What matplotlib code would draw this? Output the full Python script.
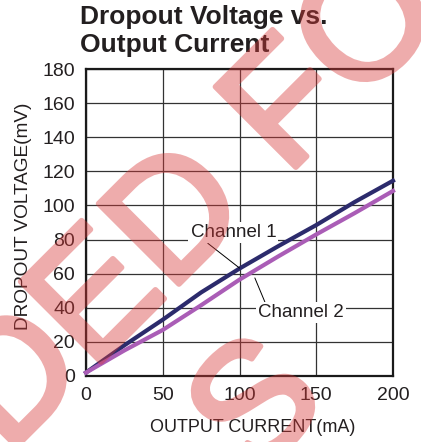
import matplotlib
matplotlib.use("Agg")
import matplotlib.pyplot as plt
import matplotlib.patheffects as pe
import numpy as np

# data
current = [0, 25, 50, 75, 100, 125, 150, 175, 200]
ch1 = [2, 18, 33, 49, 63, 76, 88.5, 102, 114.5]
ch2 = [2, 15, 27, 41.5, 56.5, 70, 83, 95.5, 108.5]
xticks = [0, 50, 100, 150, 200]
yticks = [0, 20, 40, 60, 80, 100, 120, 140, 160, 180]

W, H = 421, 442
plt.rcParams['font.family'] = ['Liberation Sans', 'DejaVu Sans']
txt = '#231f20'


def px(x, y):
    """pixel position (from top left) -> figure fraction"""
    return x / W, 1 - y / H


fig = plt.figure(figsize=(W / 100, H / 100), dpi=100)
ax = fig.add_axes([86 / W, 1 - 376 / H, 307 / W, 307 / H])

ax.plot(current, ch1, color='#2c2b6c', lw=3.0, clip_on=False, zorder=3)
ax.plot(current, ch2, color='#aa5db6', lw=3.0, clip_on=False, zorder=3)

ax.set_xlim(0, 200)
ax.set_ylim(0, 180)
ax.set_xticks(xticks)
ax.set_yticks(yticks)
ax.tick_params(length=0, pad=8, labelsize=14, labelcolor=txt)
ax.grid(True, color='#333333', lw=0.9)
ax.set_axisbelow(True)
for s in ax.spines.values():
    s.set_linewidth(1.6)
    s.set_color('#1a1a1a')

ax.set_xlabel('OUTPUT CURRENT(mA)', fontsize=13, color=txt)
ax.xaxis.set_label_coords(0.544, -0.169)
ax.xaxis.label.set_va('center')
ax.set_ylabel('DROPOUT VOLTAGE(mV)', fontsize=13.7, color=txt)
ax.yaxis.set_label_coords(-0.205, 0.521)
ax.yaxis.label.set_va('center')

# channel callouts
box = dict(facecolor='white', edgecolor='none', pad=1.5)
ax.annotate('Channel 1', xy=(100, 63.3), xytext=(96, 84), fontsize=13.5,
            color=txt, ha='center', va='center', bbox=box, zorder=4,
            arrowprops=dict(arrowstyle='-', color='black', lw=0.7,
                            shrinkA=0, shrinkB=0,
                            relpos=(0.12, 0.2)))
ax.annotate('Channel 2', xy=(110, 57.5), xytext=(140, 37), fontsize=13.5,
            color=txt, ha='center', va='center', bbox=box, zorder=4,
            arrowprops=dict(arrowstyle='-', color='black', lw=0.7,
                            shrinkA=0, shrinkB=0,
                            relpos=(0.1, 0.9)))

# title
fig.text(*px(80, 24), 'Dropout Voltage vs.', fontsize=19,
         fontweight='bold', color=txt, ha='left', va='baseline')
fig.text(*px(80, 52), 'Output Current', fontsize=19,
         fontweight='bold', color=txt, ha='left', va='baseline')

# watermark: draw the letters on a scratch figure, then lay the mask on top
# as one translucent layer so the thickened strokes don't double up
wfig = plt.figure(figsize=(W / 100, H / 100), dpi=100)
wm = dict(fontsize=119, color='black', rotation=45, rotation_mode='anchor',
          ha='left', va='baseline',
          path_effects=[pe.withStroke(linewidth=4, foreground='black')])
wfig.text(*px(7, 456), 'DED FOR', **wm)
wfig.text(*px(253, 480), 'S', **wm)
wfig.canvas.draw()
buf = np.asarray(wfig.canvas.buffer_rgba()).astype(float)
mask = 1 - buf[..., 0] / 255
plt.close(wfig)

layer = np.zeros((H, W, 4))
layer[..., 0] = 216 / 255
layer[..., 1] = 58 / 255
layer[..., 2] = 58 / 255
layer[..., 3] = mask * 0.42
fig.figimage(layer, xo=0, yo=0, origin='upper', zorder=10)

fig.savefig('out.png', dpi=100)
